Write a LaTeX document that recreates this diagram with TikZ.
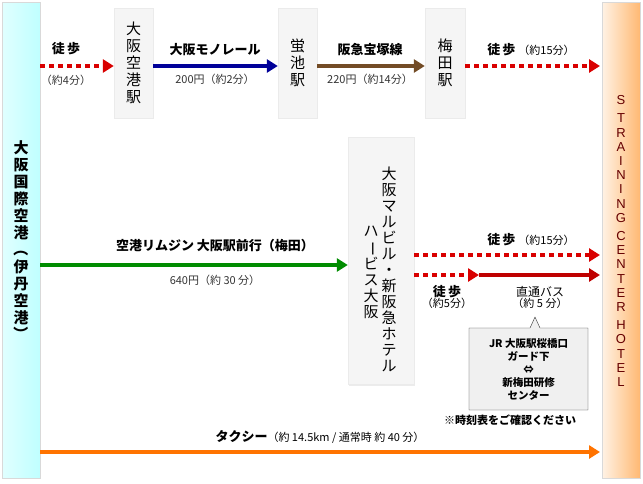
\documentclass[tikz,border=0pt]{standalone}
\usepackage{fontspec}
\setmainfont{Noto Sans CJK JP}
\newfontfamily\latinfont{Liberation Sans}
\usetikzlibrary{positioning, arrows.meta, shadows}
\newcommand{\tatebar}{\rotatebox[origin=c]{-90}{ー}}
\newcommand{\tatepar}[1]{\rotatebox[origin=c]{-90}{#1}}

\begin{document}
\begin{tikzpicture}[x=1pt,y=-1pt,
  station/.style={draw=black!8,fill=black!4,drop shadow={opacity=0.15,shadow xshift=1pt,shadow yshift=-1pt},align=center,font=\fontsize{15}{17}\selectfont},
  walk/.style={red!85!black,line width=4.5pt,dash pattern=on 5pt off 4pt,-{Triangle[width=13pt,length=11pt]}},
  ride/.style={line width=4pt,-{Triangle[width=13pt,length=11pt]}},
  lbl/.style={font=\fontsize{13}{14}\selectfont\bfseries},
  sub/.style={font=\fontsize{11}{12}\selectfont,text=black!80}]
\useasboundingbox (0,0) rectangle (643,483);

% --- side bars ---
\shade[left color=cyan!12,right color=cyan!25!white] (2,2) rectangle (40,478);
\draw[black!15] (2,2) rectangle (40,478);
\node[align=center,font=\fontsize{15}{17}\selectfont\bfseries] (itami) at (21,241)
  {大\\阪\\国\\際\\空\\港\\\tatepar{（}\\伊\\丹\\空\\港\\\tatepar{）}};
\shade[left color=orange!10,right color=orange!55] (602,2) rectangle (640,478);
\draw[black!15] (602,2) rectangle (640,478);
\node[align=center,font=\latinfont\fontsize{13}{14.2}\selectfont,text=red!40!black] (hotel) at (621,241)
  {S\\[4pt]T\\R\\A\\I\\N\\I\\N\\G\\[4pt]C\\E\\N\\T\\E\\R\\[4pt]H\\O\\T\\E\\L};
\coordinate (h1) at (600,66);
\coordinate (h2) at (600,255);
\coordinate (h3) at (600,275);
\coordinate (h4) at (600,452);

% --- stations ---
\node[station,minimum width=39pt,minimum height=110pt] (kuko) at (133.5,63) {大\\阪\\空\\港\\駅};
\node[station,minimum width=39pt,minimum height=110pt] (hotaru) at (297.5,63) {蛍\\池\\駅};
\node[station,minimum width=40pt,minimum height=110pt] (umeda) at (445,63) {梅\\田\\駅};
\node[station,minimum width=66pt,minimum height=247pt] (herbis) at (381,261) {};
\node[align=center,font=\fontsize{15}{16}\selectfont,anchor=north] (maru) at (389,163)
  {大\\阪\\マ\\ル\\ビ\\ル\\・\\新\\阪\\急\\ホ\\テ\\ル};
\node[align=center,font=\fontsize{15}{16}\selectfont,anchor=north] (harb) at (371,222)
  {ハ\\\tatebar\\ビ\\ス\\大\\阪};

% --- row 1 ---
\draw[walk] (40,66) -- (kuko.west |- 0,66);
\node[lbl] at (66,49) {徒\,歩};
\node[sub] at (66,80) {（約4分）};
\draw[ride,blue!60!black] (kuko.east |- 0,66) -- (hotaru.west |- 0,66);
\node[lbl] at (215,50) {大阪モノレール};
\node[sub] at (215,79) {200円（約2分）};
\draw[ride,brown!60!black] (hotaru.east |- 0,66) -- (umeda.west |- 0,66);
\node[lbl] at (370,50) {阪急宝塚線};
\node[sub] at (370,79) {220円（約14分）};
\draw[walk] (umeda.east |- 0,66) -- (h1);
\node at (531,50) {\fontsize{13}{14}\selectfont\bfseries 徒\,歩\ \fontsize{11}{12}\mdseries（約15分）};

% --- limousine ---
\draw[ride,green!55!black] (40,265) -- (herbis.west |- 0,265);
\node[lbl] at (215,246) {空港リムジン 大阪駅前行（梅田）};
\node[sub] at (215,280) {640円（約 30 分）};
\draw[walk] (herbis.east |- 0,255) -- (h2);
\node at (531,240) {\fontsize{13}{14}\selectfont\bfseries 徒\,歩\ \fontsize{11}{12}\mdseries（約15分）};
\coordinate (bus) at (479,275);
\draw[walk] (herbis.east |- 0,275) -- (bus);
\draw[ride,red!75!black] (bus) -- (h3);
\node[align=center,font=\fontsize{13}{12}\selectfont] (walk5) at (447,297) {\bfseries 徒\,歩\\[-1pt]\fontsize{11}{11}\selectfont（約5分）};
\node[align=center,font=\fontsize{12}{12}\selectfont] (bus5) at (540,297) {直通バス\\[-1pt]\fontsize{11}{11}\selectfont（約 5 分）};
\draw[black!80,fill=black!6] (469,328) -- (530,328) -- (535,317) -- (540,328) -- (588,328) -- (588,410) -- (469,410) -- cycle;
\node[align=center,font=\fontsize{10.5}{13}\selectfont\bfseries] (note) at (528.5,369)
  {JR 大阪駅桜橋口\\ガード下\\⇔\\新梅田研修\\センター};
\node[font=\fontsize{11}{12}\selectfont\bfseries] (jikoku) at (510,420) {※時刻表をご確認ください};

% --- taxi ---
\draw[ride,orange!90!red] (40,452) -- (h4);
\node at (320,437) {\fontsize{13}{14}\selectfont\bfseries タクシー\fontsize{11}{12}\mdseries（約 14.5km / 通常時 約 40 分）};
\end{tikzpicture}
\end{document}
